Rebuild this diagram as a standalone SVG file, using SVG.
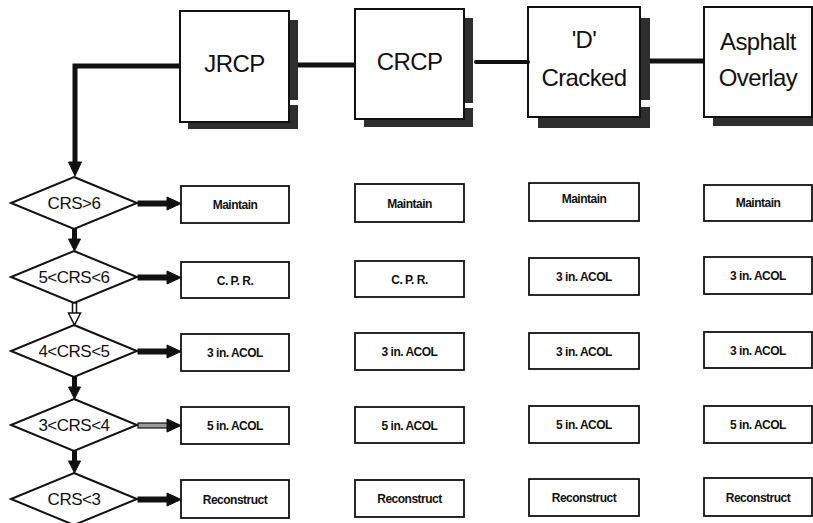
<svg xmlns="http://www.w3.org/2000/svg" width="813" height="523" viewBox="0 0 813 523">
  <style>
    .bg { fill: #ffffff; }
    .head { fill: #ffffff; stroke: #111; stroke-width: 2; }
    .shadow { fill: #2e2e2e; }
    .gap { fill: #ffffff; }
    .head-text { font-family: "Liberation Sans", Arial, sans-serif; font-size: 24px; fill: #111; text-anchor: middle; letter-spacing: -0.6px; }
    .cond { fill: #ffffff; stroke: #111; stroke-width: 2; stroke-linejoin: miter; }
    .cond-text { font-family: "Liberation Sans", Arial, sans-serif; font-size: 17px; fill: #111; text-anchor: middle; letter-spacing: -0.5px; }
    .act { fill: #ffffff; stroke: #111; stroke-width: 1.8; }
    .act-text { font-family: "Liberation Sans", Arial, sans-serif; font-size: 12px; font-weight: bold; fill: #111; text-anchor: middle; letter-spacing: -0.5px; }
    .link { fill: none; stroke: #111; stroke-width: 5; }
    .thin { fill: none; stroke: #111; stroke-width: 4; stroke-linecap: round; }
    .solid { fill: #111; stroke: #111; stroke-width: 1; stroke-linejoin: miter; }
    .hollow { fill: #ffffff; stroke: #111; stroke-width: 1.5; stroke-linejoin: miter; }
    .grey { fill: #9a9a9a; stroke: #111; stroke-width: 1.2; }
  </style>

  <rect class="bg" x="0" y="0" width="813" height="523"/>

  <!-- pavement type headers -->
  <g id="jrcp">
    <rect class="shadow" x="188" y="20" width="110" height="109"/>
    <rect class="gap" x="289" y="100" width="10" height="5"/>
    <rect class="head" x="180" y="11" width="109" height="111"/>
    <text class="head-text" x="234.5" y="72">JRCP</text>
  </g>
  <g id="crcp">
    <rect class="shadow" x="364" y="18" width="109" height="109"/>
    <rect class="gap" x="464" y="103" width="10" height="5"/>
    <rect class="head" x="355" y="9" width="109" height="110"/>
    <text class="head-text" x="409.5" y="70">CRCP</text>
  </g>
  <g id="d-cracked">
    <rect class="shadow" x="538" y="18" width="112" height="110"/>
    <rect class="gap" x="640" y="100" width="11" height="7"/>
    <rect class="head" x="528" y="7" width="112" height="110"/>
    <text class="head-text" x="584" y="48">'D'</text>
    <text class="head-text" x="584" y="86">Cracked</text>
  </g>
  <g id="asphalt-overlay">
    <rect class="shadow" x="713" y="18" width="110" height="108"/>
    <rect class="head" x="704" y="7" width="108" height="110"/>
    <text class="head-text" x="758" y="50">Asphalt</text>
    <text class="head-text" x="758" y="86">Overlay</text>
  </g>

  <!-- condition checks -->
  <g id="crs-gt-6">
    <polygon class="cond" points="74,177 137,203 74,229 11,203"/>
    <text class="cond-text" x="74" y="209">CRS&gt;6</text>
  </g>
  <g id="crs-5-6">
    <polygon class="cond" points="74,251 137,277 74,303 11,277"/>
    <text class="cond-text" x="74" y="283">5&lt;CRS&lt;6</text>
  </g>
  <g id="crs-4-5">
    <polygon class="cond" points="74,325 137,351 74,377 11,351"/>
    <text class="cond-text" x="74" y="357">4&lt;CRS&lt;5</text>
  </g>
  <g id="crs-3-4">
    <polygon class="cond" points="74,399 137,425 74,451 11,425"/>
    <text class="cond-text" x="74" y="431">3&lt;CRS&lt;4</text>
  </g>
  <g id="crs-lt-3">
    <polygon class="cond" points="74,473 137,499 74,525 11,499"/>
    <text class="cond-text" x="74" y="505">CRS&lt;3</text>
  </g>

  <!-- JRCP actions -->
  <g id="jrcp-maintain"><rect class="act" x="181" y="186" width="108" height="37"/><text class="act-text" x="235" y="209">Maintain</text></g>
  <g id="jrcp-cpr"><rect class="act" x="181" y="262" width="108" height="36"/><text class="act-text" x="235" y="284.5">C. P. R.</text></g>
  <g id="jrcp-3acol"><rect class="act" x="181" y="334" width="108" height="37"/><text class="act-text" x="235" y="357">3 in. ACOL</text></g>
  <g id="jrcp-5acol"><rect class="act" x="181" y="407" width="108" height="37"/><text class="act-text" x="235" y="430">5 in. ACOL</text></g>
  <g id="jrcp-reconstruct"><rect class="act" x="181" y="480" width="108" height="38"/><text class="act-text" x="235" y="503.5">Reconstruct</text></g>

  <!-- CRCP actions -->
  <g id="crcp-maintain"><rect class="act" x="355" y="184" width="109" height="38"/><text class="act-text" x="409.5" y="207.5">Maintain</text></g>
  <g id="crcp-cpr"><rect class="act" x="355" y="261" width="109" height="36"/><text class="act-text" x="409.5" y="283.5">C. P. R.</text></g>
  <g id="crcp-3acol"><rect class="act" x="355" y="333" width="109" height="37"/><text class="act-text" x="409.5" y="356">3 in. ACOL</text></g>
  <g id="crcp-5acol"><rect class="act" x="355" y="407" width="109" height="36"/><text class="act-text" x="409.5" y="429.5">5 in. ACOL</text></g>
  <g id="crcp-reconstruct"><rect class="act" x="355" y="480" width="109" height="37"/><text class="act-text" x="409.5" y="503">Reconstruct</text></g>

  <!-- 'D' Cracked actions -->
  <g id="dc-maintain"><rect class="act" x="529" y="183" width="110" height="38"/><text class="act-text" x="584" y="203">Maintain</text></g>
  <g id="dc-3acol-a"><rect class="act" x="529" y="258" width="110" height="37"/><text class="act-text" x="584" y="281">3 in. ACOL</text></g>
  <g id="dc-3acol-b"><rect class="act" x="529" y="333" width="110" height="36"/><text class="act-text" x="584" y="355.5">3 in. ACOL</text></g>
  <g id="dc-5acol"><rect class="act" x="529" y="406" width="110" height="37"/><text class="act-text" x="584" y="429">5 in. ACOL</text></g>
  <g id="dc-reconstruct"><rect class="act" x="529" y="479" width="110" height="37"/><text class="act-text" x="584" y="502">Reconstruct</text></g>

  <!-- Asphalt Overlay actions -->
  <g id="ao-maintain"><rect class="act" x="704" y="185" width="108" height="36"/><text class="act-text" x="758" y="207">Maintain</text></g>
  <g id="ao-3acol-a"><rect class="act" x="704" y="257" width="108" height="37"/><text class="act-text" x="758" y="280">3 in. ACOL</text></g>
  <g id="ao-3acol-b"><rect class="act" x="704" y="332" width="108" height="36"/><text class="act-text" x="758" y="354.5">3 in. ACOL</text></g>
  <g id="ao-5acol"><rect class="act" x="704" y="406" width="108" height="37"/><text class="act-text" x="758" y="429">5 in. ACOL</text></g>
  <g id="ao-reconstruct"><rect class="act" x="704" y="478" width="108" height="38"/><text class="act-text" x="758" y="501.5">Reconstruct</text></g>

  <!-- connectors -->
  <g id="connectors">
    <!-- header chain -->
    <line class="link" x1="298" y1="65" x2="355" y2="65"/>
    <line class="thin" x1="476" y1="62" x2="528" y2="62"/>
    <line class="link" x1="650" y1="61" x2="704" y2="61"/>

    <!-- feed into first check -->
    <polyline class="link" points="180,66 75,66 75,164"/>
    <polygon class="solid" points="68.5,162 81.5,162 75,176"/>

    <!-- downward chain of checks -->
    <rect class="solid" x="72.5" y="229" width="4" height="12"/>
    <polygon class="solid" points="68.5,239 80.5,239 74.5,251"/>

    <rect class="hollow" x="72.5" y="303" width="4" height="11"/>
    <polygon class="hollow" points="68.5,313 80.5,313 74.5,325"/>

    <rect class="solid" x="72.5" y="377" width="4" height="12"/>
    <polygon class="solid" points="68.5,387 80.5,387 74.5,399"/>

    <rect class="solid" x="72.5" y="451" width="4" height="12"/>
    <polygon class="solid" points="68.5,461 80.5,461 74.5,473"/>

    <!-- checks to JRCP actions -->
    <rect class="solid" x="138" y="201" width="30" height="5"/>
    <polygon class="solid" points="167,197 181,203.5 167,210"/>

    <rect class="solid" x="138" y="275" width="30" height="5"/>
    <polygon class="solid" points="167,271 181,277.5 167,284"/>

    <rect class="solid" x="138" y="349" width="30" height="5"/>
    <polygon class="solid" points="167,345 181,351.5 167,358"/>

    <rect class="grey" x="138" y="423" width="30" height="5"/>
    <polygon class="solid" points="167,419 181,425.5 167,432"/>

    <rect class="solid" x="138" y="497" width="30" height="5"/>
    <polygon class="solid" points="167,493 181,499.5 167,506"/>
  </g>
</svg>
